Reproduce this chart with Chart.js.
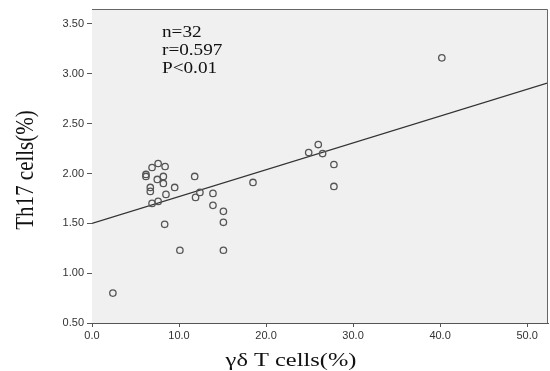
<!DOCTYPE html>
<html>
<head>
<meta charset="utf-8">
<script src="https://cdn.jsdelivr.net/npm/chart.js@4.4.1/dist/chart.umd.min.js"></script>
<style>
  html, body { margin: 0; padding: 0; background: #fff; }
  canvas { display: block; }
</style>
</head>
<body>
<canvas id="scatter" width="550" height="371"></canvas>
<script>
// γδ T cells (%) vs Th17 cells (%)
const gdT = [6.2, 6.2, 6.7, 6.7, 6.9, 7.6, 8.4, 7.5, 8.2, 8.2, 9.5, 8.5, 6.9, 7.6, 8.35, 10.1,
             11.8, 12.4, 11.9, 13.9, 13.9, 15.1, 15.1, 15.1, 18.5, 24.9, 26.0, 26.5, 27.8, 27.8, 40.2, 2.4];
const th17 = [1.97, 1.99, 1.86, 1.82, 2.06, 2.10, 2.07, 1.94, 1.97, 1.90, 1.86, 1.79, 1.70, 1.72, 1.49, 1.23,
              1.97, 1.81, 1.76, 1.80, 1.68, 1.62, 1.51, 1.23, 1.91, 2.21, 2.29, 2.20, 2.09, 1.87, 3.16, 0.80];

// fit line ends
const fitX = [0, 52.4];
const fitY = [1.50, 2.91];

const xTicks = [0, 10, 20, 30, 40, 50];
const yTicks = [0.5, 1.0, 1.5, 2.0, 2.5, 3.0, 3.5];

const statLines = ['n=32', 'r=0.597', 'P<0.01'];

const points = gdT.map((x, i) => ({ x: x, y: th17[i] }));
const fit = fitX.map((x, i) => ({ x: x, y: fitY[i] }));

const serif = '"Liberation Serif", "Times New Roman", serif';

// grey plot box, frame and texts (the picture is a bit wide, so text is stretched)
const frame = {
    id: 'frame',
    beforeDatasetsDraw(chart) {
        const { ctx, chartArea: a } = chart;
        ctx.save();
        ctx.fillStyle = '#f0f0f0';
        ctx.fillRect(a.left, a.top, a.right - a.left, a.bottom - a.top);
        ctx.restore();
    },
    afterDraw(chart) {
        const { ctx, chartArea: a } = chart;
        ctx.save();
        ctx.strokeStyle = '#666';
        ctx.lineWidth = 1;
        ctx.beginPath();
        ctx.moveTo(a.left, a.top + 0.5);
        ctx.lineTo(a.right - 0.5, a.top + 0.5);
        ctx.lineTo(a.right - 0.5, a.bottom);
        ctx.stroke();
        ctx.restore();

        ctx.save();
        ctx.fillStyle = '#111';
        ctx.textBaseline = 'alphabetic';
        ctx.font = '16px ' + serif;
        ctx.textAlign = 'left';
        ctx.translate(162, 0);
        ctx.scale(1.2, 1);
        statLines.forEach((t, i) => ctx.fillText(t, 0, 37 + i * 18));
        ctx.restore();

        ctx.save();
        ctx.fillStyle = '#111';
        ctx.font = '18.5px ' + serif;
        ctx.textAlign = 'center';
        ctx.translate(291, 366);
        ctx.scale(1.32, 1);
        ctx.fillText('γδ T cells(%)', 0, 0);
        ctx.restore();

        ctx.save();
        ctx.fillStyle = '#111';
        ctx.font = '21px ' + serif;
        ctx.textAlign = 'center';
        ctx.translate(33, 170);
        ctx.rotate(-Math.PI / 2);
        ctx.scale(1, 1.15);
        ctx.fillText('Th17 cells(%)', 0, 0);
        ctx.restore();
    }
};

const tickFont = { family: '"Liberation Sans", Arial, sans-serif', size: 11 };

new Chart(document.getElementById('scatter'), {
    type: 'scatter',
    data: {
        datasets: [
            {
                data: points,
                pointStyle: 'circle',
                pointRadius: 3.2,
                pointBorderWidth: 1.3,
                borderColor: '#555',
                backgroundColor: 'rgba(0,0,0,0)',
                pointHoverRadius: 3.2
            },
            {
                data: fit,
                showLine: true,
                borderColor: '#333',
                borderWidth: 1.3,
                pointRadius: 0
            }
        ]
    },
    options: {
        responsive: false,
        animation: false,
        devicePixelRatio: 1,
        layout: { autoPadding: false, padding: { left: 0, right: 2, top: 9, bottom: 0 } },
        plugins: { legend: { display: false }, tooltip: { enabled: false } },
        scales: {
            x: {
                type: 'linear',
                min: 0,
                max: 52.4,
                afterBuildTicks: s => { s.ticks = xTicks.map(v => ({ value: v })); },
                afterFit: s => { s.height = 48; s.paddingLeft = 0; s.paddingRight = 0; },
                grid: { drawOnChartArea: false, tickLength: 4, color: '#555' },
                border: { color: '#555' },
                ticks: { font: tickFont, color: '#333', padding: 2, maxRotation: 0,
                         callback: v => v.toFixed(1) }
            },
            y: {
                type: 'linear',
                min: 0.5,
                max: 3.65,
                afterBuildTicks: s => { s.ticks = yTicks.map(v => ({ value: v })); },
                afterFit: s => { s.width = 92; s.paddingTop = 0; s.paddingBottom = 0; },
                grid: { drawOnChartArea: false, tickLength: 5, color: '#555' },
                border: { color: '#555' },
                ticks: { font: tickFont, color: '#333', padding: 3,
                         callback: v => v.toFixed(2) }
            }
        }
    },
    plugins: [frame]
});
</script>
</body>
</html>
